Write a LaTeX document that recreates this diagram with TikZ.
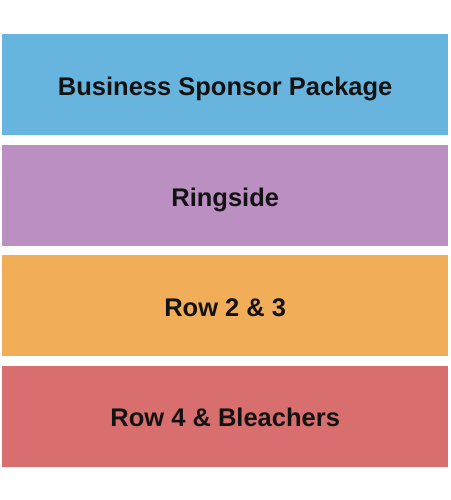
\documentclass[tikz,border=0pt]{standalone}
\usepackage{fontspec}
\setmainfont{Liberation Sans}
\definecolor{cblue}{HTML}{67B5DE}
\definecolor{cpurple}{HTML}{BC8FC2}
\definecolor{corange}{HTML}{F2AD59}
\definecolor{cred}{HTML}{D86E6E}
\definecolor{ctext}{HTML}{121212}
\begin{document}
\begin{tikzpicture}[x=1pt,y=-1pt,
  band/.style={fill=#1,draw=none,minimum width=446pt,minimum height=101pt,inner sep=0pt,anchor=north west},
  lbl/.style={font=\bfseries\fontsize{25.5}{30}\selectfont,text=ctext,anchor=base,inner sep=0pt}]
\useasboundingbox (0,0) rectangle (450,500);
\node[band=cblue] (b1) at (2,34) {};
\node[band=cpurple] (b2) at (2,144.5) {};
\node[band=corange] (b3) at (2,255) {};
\node[band=cred] (b4) at (2,365.5) {};
\node[lbl] (t1) at ([yshift=-61.5pt]b1.north) {Business Sponsor Package};
\node[lbl] (t2) at ([yshift=-61.5pt]b2.north) {Ringside};
\node[lbl] (t3) at ([yshift=-61pt]b3.north) {Row 2 \& 3};
\node[lbl] (t4) at ([yshift=-60.5pt]b4.north) {Row 4 \& Bleachers};
\end{tikzpicture}
\end{document}
